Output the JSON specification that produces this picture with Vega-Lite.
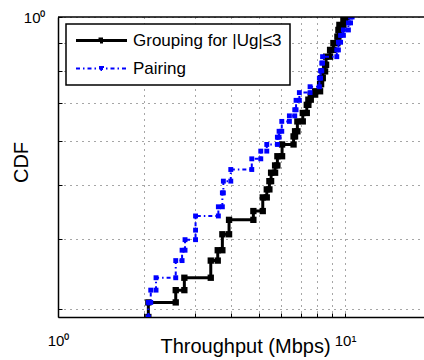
{
  "$schema": "https://vega.github.io/schema/vega-lite/v6.json",
  "width": 366,
  "height": 300,
  "autosize": {"type": "none"},
  "padding": {"left": 58, "top": 17, "right": 0, "bottom": 43},
  "background": "white",
  "config": {"view": {"stroke": null}, "font": "Liberation Sans"},
  "data": {"values": [
    {"s": "G", "i": 1, "x": 2.064, "y": 0.29},
    {"s": "G", "i": 2, "x": 2.064, "y": 0.308},
    {"s": "G", "i": 3, "x": 2.571, "y": 0.308},
    {"s": "G", "i": 4, "x": 2.571, "y": 0.324},
    {"s": "G", "i": 5, "x": 2.755, "y": 0.324},
    {"s": "G", "i": 6, "x": 2.755, "y": 0.341},
    {"s": "G", "i": 7, "x": 3.405, "y": 0.341},
    {"s": "G", "i": 8, "x": 3.405, "y": 0.366},
    {"s": "G", "i": 9, "x": 3.601, "y": 0.366},
    {"s": "G", "i": 10, "x": 3.601, "y": 0.382},
    {"s": "G", "i": 11, "x": 3.737, "y": 0.382},
    {"s": "G", "i": 12, "x": 3.737, "y": 0.408},
    {"s": "G", "i": 13, "x": 3.943, "y": 0.408},
    {"s": "G", "i": 14, "x": 3.943, "y": 0.433},
    {"s": "G", "i": 15, "x": 4.792, "y": 0.433},
    {"s": "G", "i": 16, "x": 4.792, "y": 0.449},
    {"s": "G", "i": 17, "x": 5.167, "y": 0.449},
    {"s": "G", "i": 18, "x": 5.167, "y": 0.475},
    {"s": "G", "i": 19, "x": 5.336, "y": 0.475},
    {"s": "G", "i": 20, "x": 5.336, "y": 0.491},
    {"s": "G", "i": 21, "x": 5.449, "y": 0.491},
    {"s": "G", "i": 22, "x": 5.449, "y": 0.508},
    {"s": "G", "i": 23, "x": 5.524, "y": 0.508},
    {"s": "G", "i": 24, "x": 5.524, "y": 0.526},
    {"s": "G", "i": 25, "x": 5.704, "y": 0.526},
    {"s": "G", "i": 26, "x": 5.704, "y": 0.542},
    {"s": "G", "i": 27, "x": 5.81, "y": 0.542},
    {"s": "G", "i": 28, "x": 5.81, "y": 0.563},
    {"s": "G", "i": 29, "x": 6.033, "y": 0.563},
    {"s": "G", "i": 30, "x": 6.033, "y": 0.591},
    {"s": "G", "i": 31, "x": 6.615, "y": 0.591},
    {"s": "G", "i": 32, "x": 6.615, "y": 0.611},
    {"s": "G", "i": 33, "x": 6.695, "y": 0.611},
    {"s": "G", "i": 34, "x": 6.695, "y": 0.624},
    {"s": "G", "i": 35, "x": 6.82, "y": 0.624},
    {"s": "G", "i": 36, "x": 6.82, "y": 0.65},
    {"s": "G", "i": 37, "x": 7.122, "y": 0.65},
    {"s": "G", "i": 38, "x": 7.122, "y": 0.673},
    {"s": "G", "i": 39, "x": 7.355, "y": 0.673},
    {"s": "G", "i": 40, "x": 7.355, "y": 0.696},
    {"s": "G", "i": 41, "x": 7.449, "y": 0.696},
    {"s": "G", "i": 42, "x": 7.449, "y": 0.711},
    {"s": "G", "i": 43, "x": 7.594, "y": 0.711},
    {"s": "G", "i": 44, "x": 7.594, "y": 0.726},
    {"s": "G", "i": 45, "x": 7.865, "y": 0.726},
    {"s": "G", "i": 46, "x": 7.865, "y": 0.736},
    {"s": "G", "i": 47, "x": 8.182, "y": 0.736},
    {"s": "G", "i": 48, "x": 8.182, "y": 0.758},
    {"s": "G", "i": 49, "x": 8.249, "y": 0.758},
    {"s": "G", "i": 50, "x": 8.249, "y": 0.777},
    {"s": "G", "i": 51, "x": 8.362, "y": 0.777},
    {"s": "G", "i": 52, "x": 8.362, "y": 0.799},
    {"s": "G", "i": 53, "x": 8.518, "y": 0.799},
    {"s": "G", "i": 54, "x": 8.518, "y": 0.821},
    {"s": "G", "i": 55, "x": 8.587, "y": 0.821},
    {"s": "G", "i": 56, "x": 8.587, "y": 0.849},
    {"s": "G", "i": 57, "x": 8.866, "y": 0.849},
    {"s": "G", "i": 58, "x": 8.866, "y": 0.873},
    {"s": "G", "i": 59, "x": 9.105, "y": 0.873},
    {"s": "G", "i": 60, "x": 9.105, "y": 0.898},
    {"s": "G", "i": 61, "x": 9.401, "y": 0.898},
    {"s": "G", "i": 62, "x": 9.401, "y": 0.922},
    {"s": "G", "i": 63, "x": 9.478, "y": 0.922},
    {"s": "G", "i": 64, "x": 9.478, "y": 0.948},
    {"s": "G", "i": 65, "x": 9.553, "y": 0.948},
    {"s": "G", "i": 66, "x": 9.553, "y": 0.968},
    {"s": "G", "i": 67, "x": 9.865, "y": 0.968},
    {"s": "G", "i": 68, "x": 9.865, "y": 0.988},
    {"s": "G", "i": 69, "x": 10.0, "y": 0.988},
    {"s": "G", "i": 70, "x": 10.0, "y": 1.0},
    {"s": "G", "i": 71, "x": 10.12, "y": 1.0},
    {"s": "P", "i": 1, "x": 2.064, "y": 0.29},
    {"s": "P", "i": 2, "x": 2.064, "y": 0.308},
    {"s": "P", "i": 3, "x": 2.104, "y": 0.308},
    {"s": "P", "i": 4, "x": 2.104, "y": 0.324},
    {"s": "P", "i": 5, "x": 2.195, "y": 0.324},
    {"s": "P", "i": 6, "x": 2.195, "y": 0.341},
    {"s": "P", "i": 7, "x": 2.571, "y": 0.341},
    {"s": "P", "i": 8, "x": 2.571, "y": 0.366},
    {"s": "P", "i": 9, "x": 2.705, "y": 0.366},
    {"s": "P", "i": 10, "x": 2.705, "y": 0.382},
    {"s": "P", "i": 11, "x": 2.77, "y": 0.382},
    {"s": "P", "i": 12, "x": 2.77, "y": 0.399},
    {"s": "P", "i": 13, "x": 3.014, "y": 0.399},
    {"s": "P", "i": 14, "x": 3.014, "y": 0.415},
    {"s": "P", "i": 15, "x": 3.014, "y": 0.44},
    {"s": "P", "i": 16, "x": 3.619, "y": 0.44},
    {"s": "P", "i": 17, "x": 3.619, "y": 0.457},
    {"s": "P", "i": 18, "x": 3.737, "y": 0.457},
    {"s": "P", "i": 19, "x": 3.737, "y": 0.484},
    {"s": "P", "i": 20, "x": 3.767, "y": 0.484},
    {"s": "P", "i": 21, "x": 3.767, "y": 0.508},
    {"s": "P", "i": 22, "x": 3.998, "y": 0.508},
    {"s": "P", "i": 23, "x": 3.998, "y": 0.533},
    {"s": "P", "i": 24, "x": 4.731, "y": 0.533},
    {"s": "P", "i": 25, "x": 4.731, "y": 0.557},
    {"s": "P", "i": 26, "x": 5.085, "y": 0.557},
    {"s": "P", "i": 27, "x": 5.085, "y": 0.575},
    {"s": "P", "i": 28, "x": 5.336, "y": 0.575},
    {"s": "P", "i": 29, "x": 5.336, "y": 0.591},
    {"s": "P", "i": 30, "x": 5.81, "y": 0.591},
    {"s": "P", "i": 31, "x": 5.81, "y": 0.609},
    {"s": "P", "i": 32, "x": 5.889, "y": 0.609},
    {"s": "P", "i": 33, "x": 5.889, "y": 0.624},
    {"s": "P", "i": 34, "x": 6.018, "y": 0.624},
    {"s": "P", "i": 35, "x": 6.018, "y": 0.65},
    {"s": "P", "i": 36, "x": 6.397, "y": 0.65},
    {"s": "P", "i": 37, "x": 6.397, "y": 0.665},
    {"s": "P", "i": 38, "x": 6.678, "y": 0.665},
    {"s": "P", "i": 39, "x": 6.678, "y": 0.682},
    {"s": "P", "i": 40, "x": 6.749, "y": 0.682},
    {"s": "P", "i": 41, "x": 6.749, "y": 0.709},
    {"s": "P", "i": 42, "x": 6.93, "y": 0.709},
    {"s": "P", "i": 43, "x": 6.93, "y": 0.732},
    {"s": "P", "i": 44, "x": 7.551, "y": 0.732},
    {"s": "P", "i": 45, "x": 7.551, "y": 0.75},
    {"s": "P", "i": 46, "x": 8.136, "y": 0.75},
    {"s": "P", "i": 47, "x": 8.136, "y": 0.777},
    {"s": "P", "i": 48, "x": 8.214, "y": 0.777},
    {"s": "P", "i": 49, "x": 8.214, "y": 0.801},
    {"s": "P", "i": 50, "x": 8.294, "y": 0.801},
    {"s": "P", "i": 51, "x": 8.294, "y": 0.827},
    {"s": "P", "i": 52, "x": 8.347, "y": 0.827},
    {"s": "P", "i": 53, "x": 8.347, "y": 0.849},
    {"s": "P", "i": 54, "x": 9.356, "y": 0.849},
    {"s": "P", "i": 55, "x": 9.356, "y": 0.873},
    {"s": "P", "i": 56, "x": 9.478, "y": 0.873},
    {"s": "P", "i": 57, "x": 9.478, "y": 0.901},
    {"s": "P", "i": 58, "x": 9.645, "y": 0.901},
    {"s": "P", "i": 59, "x": 9.645, "y": 0.927},
    {"s": "P", "i": 60, "x": 9.865, "y": 0.927},
    {"s": "P", "i": 61, "x": 9.865, "y": 0.948},
    {"s": "P", "i": 62, "x": 10.27, "y": 0.948},
    {"s": "P", "i": 63, "x": 10.27, "y": 0.976},
    {"s": "P", "i": 64, "x": 10.45, "y": 0.976},
    {"s": "P", "i": 65, "x": 10.45, "y": 1.0},
    {"s": "P", "i": 66, "x": 10.58, "y": 1.0}
  ]},
  "layer": [
    {
      "transform": [{"filter": "datum.s === 'G'"}],
      "mark": {"type": "line", "strokeWidth": 3, "clip": true},
      "encoding": {
        "x": {"field": "x", "type": "quantitative",
          "scale": {"type": "log", "domain": [1, 18.83], "nice": false},
          "axis": {"title": "Throughput (Mbps)", "values": [1,2,3,4,5,6,7,8,9,10],
            "labelExpr": "datum.value == 1 ? '10⁰' : (datum.value == 10 ? '10¹' : '')",
            "grid": true, "gridColor": "#000", "gridDash": [1, 5], "gridWidth": 1, "gridOpacity": 0.7,
            "domainColor": "#000", "domainWidth": 1.5, "tickColor": "#000", "tickSize": -4,
            "labelFont": "Liberation Sans", "labelFontSize": 15, "labelColor": "#000", "labelPadding": 20,
            "labelFlush": false, "labelOverlap": false,
            "titleFont": "Liberation Sans", "titleFontSize": 20, "titleFontWeight": "normal", "titleColor": "#000",
            "titleX": 187, "titleY": 35, "titleBaseline": "alphabetic", "titleAlign": "center"}},
        "y": {"field": "y", "type": "quantitative",
          "scale": {"type": "log", "domain": [0.29, 1], "nice": false},
          "axis": {"title": "CDF", "values": [0.3,0.4,0.5,0.6,0.7,0.8,0.9,1],
            "labelExpr": "datum.value == 1 ? '10⁰' : ''",
            "grid": true, "gridColor": "#000", "gridDash": [1, 5], "gridWidth": 1, "gridOpacity": 0.7,
            "domainColor": "#000", "domainWidth": 1.5, "tickColor": "#000", "tickSize": -4,
            "labelFont": "Liberation Sans", "labelFontSize": 15, "labelColor": "#000", "labelPadding": 17,
            "labelFlush": false, "labelOverlap": false,
            "titleFont": "Liberation Sans", "titleFontSize": 20, "titleFontWeight": "normal", "titleColor": "#000",
            "titleX": -31, "titleY": 145, "titleAngle": 270, "titleBaseline": "alphabetic", "titleAlign": "center"}},
        "order": {"field": "i", "type": "quantitative"},
        "color": {"field": "s", "type": "nominal",
          "scale": {"domain": ["G", "P"], "range": ["#000000", "#0000ff"]},
          "legend": {"orient": "none", "legendX": 8, "legendY": 7, "title": null, "padding": 8,
            "strokeColor": "#000", "fillColor": "#fff",
            "labelExpr": "datum.value == 'G' ? 'Grouping for |Ug|≤3' : 'Pairing'",
            "symbolType": "M-2.55,0H2.55M-0.15,-0.15H0.15V0.15H-0.15Z", "symbolSize": 400,
            "rowPadding": 10, "symbolOffset": 19, "labelOffset": 23,
            "labelFont": "Liberation Sans", "labelFontSize": 17, "labelColor": "#000",
            "symbolStrokeWidth": 2.5,
            "encode": {
              "symbols": {"update": {"fill": {"scale": "color", "field": "value"}, "strokeWidth": {"signal": "datum.value === 'P' ? 2 : 3"}}},
              "legend": {"update": {"strokeWidth": {"value": 1.5}}}
            }}},
        "strokeDash": {"field": "s", "type": "nominal",
          "scale": {"domain": ["G", "P"], "range": [[1, 0], [4, 3, 1.5, 3]]}}
      }
    },
    {
      "transform": [{"filter": "datum.s === 'G'"}],
      "mark": {"type": "point", "shape": "square", "filled": true, "opacity": 1, "size": 40, "clip": true},
      "encoding": {
        "x": {"field": "x", "type": "quantitative"},
        "y": {"field": "y", "type": "quantitative"},
        "color": {"field": "s", "type": "nominal"}
      }
    },
    {
      "transform": [{"filter": "datum.s === 'P'"}],
      "mark": {"type": "line", "strokeWidth": 2, "clip": true},
      "encoding": {
        "x": {"field": "x", "type": "quantitative"},
        "y": {"field": "y", "type": "quantitative"},
        "order": {"field": "i", "type": "quantitative"},
        "color": {"field": "s", "type": "nominal"},
        "strokeDash": {"field": "s", "type": "nominal"}
      }
    },
    {
      "transform": [{"filter": "datum.s === 'P'"}],
      "mark": {"type": "point", "shape": "square", "filled": true, "opacity": 1, "size": 24, "clip": true},
      "encoding": {
        "x": {"field": "x", "type": "quantitative"},
        "y": {"field": "y", "type": "quantitative"},
        "color": {"field": "s", "type": "nominal"}
      }
    },
    {
      "data": {"values": [{}]},
      "mark": {"type": "rule", "color": "#000", "strokeWidth": 1.5},
      "encoding": {"y": {"datum": 1, "type": "quantitative"}}
    }
  ]
}
